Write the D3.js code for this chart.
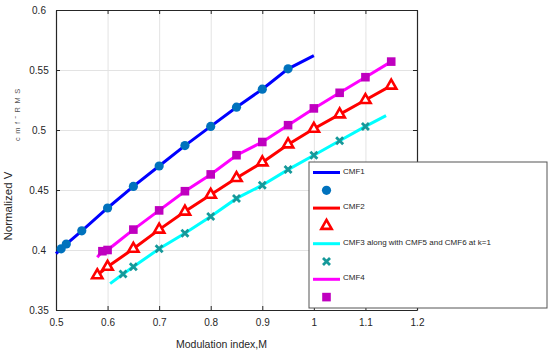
<!DOCTYPE html>
<html>
<meta charset="utf-8">
<title>Normalized V vs modulation index</title>
<style>
	body { margin: 0; background-color: #ffffff; }
	text { font-family: "Liberation Sans", Arial, sans-serif; }
	.tick text { font-size: 10px; fill: #262626; }
	.axis path, .axis line { stroke: #262626; }
	.grid line { stroke: #e3e3e3; }
	.grid path { stroke: none; }
</style>
<body>
<div id="chart"></div>
<script src="https://d3js.org/d3.v7.min.js"></script>
<script>

	// data
	var xTicks = [0.5, 0.6, 0.7, 0.8, 0.9, 1, 1.1, 1.2];
	var yTicks = [0.35, 0.4, 0.45, 0.5, 0.55, 0.6];

	var cmf1M = [0.51, 0.52, 0.55, 0.6, 0.65, 0.7, 0.75, 0.8, 0.85, 0.9, 0.95];
	var cmf1V = [0.401, 0.405, 0.416, 0.435, 0.453, 0.470, 0.487, 0.503, 0.519, 0.534, 0.551];
	var cmf1Ends = [[0.5, 0.397], [1.0, 0.562]];

	var cmf2M = [0.58, 0.6, 0.65, 0.7, 0.75, 0.8, 0.85, 0.9, 0.95, 1.0, 1.05, 1.1, 1.15];
	var cmf2V = [0.379, 0.386, 0.401, 0.417, 0.432, 0.446, 0.460, 0.473, 0.488, 0.501, 0.513, 0.525, 0.537];
	var cmf2Ends = [[0.58, 0.379], [1.15, 0.537]];

	var cmf3M = [0.63, 0.65, 0.7, 0.75, 0.8, 0.85, 0.9, 0.95, 1.0, 1.05, 1.1];
	var cmf3V = [0.380, 0.386, 0.401, 0.414, 0.428, 0.443, 0.454, 0.467, 0.479, 0.491, 0.503];
	var cmf3Ends = [[0.605, 0.372], [1.14, 0.512]];

	var cmf4M = [0.59, 0.6, 0.65, 0.7, 0.75, 0.8, 0.85, 0.9, 0.95, 1.0, 1.05, 1.1, 1.15];
	var cmf4V = [0.399, 0.400, 0.417, 0.433, 0.449, 0.463, 0.479, 0.490, 0.504, 0.518, 0.531, 0.544, 0.557];
	var cmf4Ends = [[0.58, 0.394], [1.15, 0.557]];

	var legendLabels = ["CMF1", "CMF2", "CMF3 along with CMF5 and CMF6 at k=1", "CMF4"];

	var series = [
		{ name: legendLabels[0], m: cmf1M, v: cmf1V, ends: cmf1Ends, line: "#0000ff", marker: "circle", mcol: "#0072bd" },
		{ name: legendLabels[1], m: cmf2M, v: cmf2V, ends: cmf2Ends, line: "#ff0000", marker: "triangle", mcol: "#ff0000" },
		{ name: legendLabels[2], m: cmf3M, v: cmf3V, ends: cmf3Ends, line: "#00ffff", marker: "cross", mcol: "#16999a" },
		{ name: legendLabels[3], m: cmf4M, v: cmf4V, ends: cmf4Ends, line: "#ff00ff", marker: "square", mcol: "#bf00bf" }
	];

	var W = 550, H = 352;
	var margin = { top: 10, right: 133, bottom: 42, left: 56 },
		width = W - margin.left - margin.right,
		height = H - margin.top - margin.bottom;

	var svg = d3.select("#chart").append("svg")
		.attr("width", W)
		.attr("height", H)
		.append("g")
		.attr("transform", "translate(" + margin.left + "," + margin.top + ")");

	var x = d3.scaleLinear().domain([0.5, 1.2]).range([0, width]);
	var y = d3.scaleLinear().domain([0.35, 0.6]).range([height, 0]);

	// grid
	svg.append("g").attr("class", "grid")
		.attr("transform", "translate(0," + height + ")")
		.call(d3.axisBottom(x).tickValues(xTicks).tickSize(-height).tickFormat(""));
	svg.append("g").attr("class", "grid")
		.call(d3.axisLeft(y).tickValues(yTicks).tickSize(-width).tickFormat(""));

	// axes, ticks pointing inward
	var fmt = function (d) { return d3.format("~g")(d); };
	svg.append("g").attr("class", "axis")
		.attr("transform", "translate(0," + height + ")")
		.call(d3.axisBottom(x).tickValues(xTicks).tickSizeInner(-4).tickSizeOuter(0).tickPadding(9).tickFormat(fmt));
	svg.append("g").attr("class", "axis")
		.call(d3.axisTop(x).tickValues(xTicks).tickSizeInner(-4).tickSizeOuter(0).tickFormat(""));
	var yAx = svg.append("g").attr("class", "axis")
		.call(d3.axisLeft(y).tickValues(yTicks).tickSizeInner(-4).tickSizeOuter(0).tickFormat(fmt));
	yAx.selectAll(".tick text").attr("text-anchor", "middle").attr("x", -17);
	svg.append("g").attr("class", "axis")
		.attr("transform", "translate(" + width + ",0)")
		.call(d3.axisRight(y).tickValues(yTicks).tickSizeInner(-4).tickSizeOuter(0).tickFormat(""));
	svg.selectAll(".axis path").attr("stroke-width", 1.2);

	// axis labels
	svg.append("text")
		.attr("x", 165.5).attr("y", height + 37.5)
		.attr("text-anchor", "middle")
		.style("font-size", "10.5px").style("fill", "#262626")
		.text("Modulation index,M");
	svg.append("text")
		.attr("transform", "translate(-44.5," + 196 + ") rotate(-90)")
		.attr("text-anchor", "middle")
		.style("font-size", "11.5px").style("fill", "#262626")
		.text("Normalized V");
	svg.append("text")
		.attr("transform", "translate(-36," + 104.5 + ") rotate(-90)")
		.attr("text-anchor", "middle")
		.style("font-size", "7.5px").style("letter-spacing", "0.7px").style("fill", "#555")
		.text("c m f ˜ R M S");

	function drawMarker(g, type, color, cx, cy) {
		if (type === "circle") {
			g.append("circle").attr("cx", cx).attr("cy", cy).attr("r", 4.6).attr("fill", color);
		} else if (type === "square") {
			g.append("rect").attr("x", cx - 4.3).attr("y", cy - 4.3).attr("width", 8.6).attr("height", 8.6).attr("fill", color);
		} else if (type === "triangle") {
			g.append("path").attr("d", d3.symbol().type(d3.symbolTriangle).size(46)())
				.attr("transform", "translate(" + cx + "," + cy + ")")
				.attr("fill", "#ffffff").attr("stroke", color).attr("stroke-width", 2.6);
		} else {
			g.append("path").attr("d", "M-3.5,-3.5L3.5,3.5M-3.5,3.5L3.5,-3.5")
				.attr("transform", "translate(" + cx + "," + cy + ")")
				.attr("fill", "none").attr("stroke", color).attr("stroke-width", 2.8);
		}
	}

	var line = d3.line().x(function (d) { return x(d[0]); }).y(function (d) { return y(d[1]); });

	series.forEach(function (s) {
		var pts = s.m.map(function (m, i) { return [m, s.v[i]]; })
			.concat(s.ends)
			.sort(function (a, b) { return a[0] - b[0]; });
		svg.append("path").datum(pts)
			.attr("d", line)
			.attr("fill", "none")
			.attr("stroke", s.line)
			.attr("stroke-width", 3);
		var mg = svg.append("g");
		s.m.forEach(function (m, i) { drawMarker(mg, s.marker, s.mcol, x(m), y(s.v[i])); });
	});

	// legend
	var lx = 309 - margin.left, ly = 162 - margin.top, row = 17.8;
	var leg = svg.append("g").attr("transform", "translate(" + lx + "," + ly + ")");
	leg.append("rect").attr("width", 238).attr("height", 146)
		.attr("fill", "#ffffff").attr("stroke", "#555").attr("stroke-width", 1);
	series.forEach(function (s, i) {
		var yy = 10.5 + i * 2 * row;
		leg.append("line").attr("x1", 4).attr("x2", 31).attr("y1", yy).attr("y2", yy)
			.attr("stroke", s.line).attr("stroke-width", 3);
		leg.append("text").attr("x", 34).attr("y", yy + 1)
			.style("font-size", "8px").style("fill", "#262626")
			.text(s.name);
		drawMarker(leg, s.marker, s.mcol, 17.5, yy + row);
	});

</script>
</body>
</html>
